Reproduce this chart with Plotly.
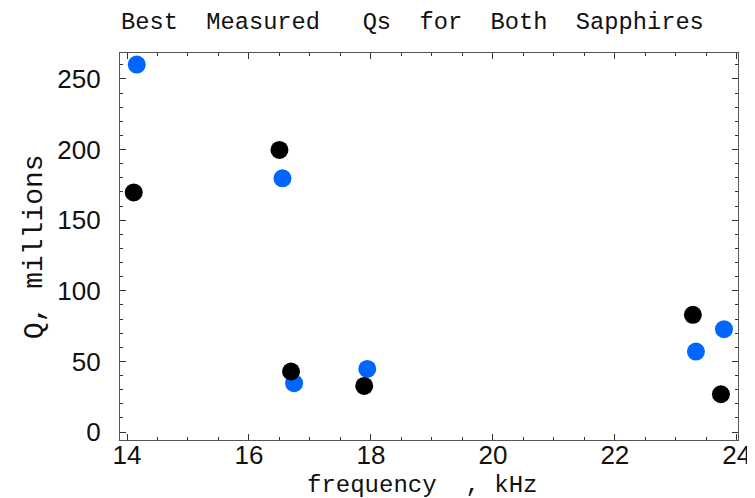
import plotly.graph_objects as go

# Data (frequency in kHz, Q in millions)
blue_freq = [14.16, 16.55, 16.74, 17.94, 23.33, 23.79]
blue_q = [260.2, 179.7, 34.6, 44.7, 57.0, 72.9]
black_freq = [14.11, 16.50, 16.69, 17.89, 23.28, 23.74]
black_q = [169.7, 199.8, 42.9, 32.7, 83.0, 26.8]

title_text = "Best  Measured   Qs  for  Both  Sapphires"
x_title = "frequency  , kHz"
y_title = "Q, millions"

x_ticks = [14, 16, 18, 20, 22, 24]
y_ticks = [0, 50, 100, 150, 200, 250]

mono = "Liberation Mono, Courier New, monospace"
sans = "Liberation Sans, Arial, sans-serif"

fig = go.Figure()
fig.add_trace(go.Scatter(x=blue_freq, y=blue_q, mode="markers",
                         marker=dict(color="#0066FF", size=18, line=dict(width=0)),
                         showlegend=False))
fig.add_trace(go.Scatter(x=black_freq, y=black_q, mode="markers",
                         marker=dict(color="#000000", size=18, line=dict(width=0)),
                         showlegend=False))

axis_common = dict(
    showgrid=False, zeroline=False, showline=True, linecolor="#555555", linewidth=1.3,
    mirror="allticks", ticks="inside", ticklen=6, tickwidth=1, tickcolor="#333333",
    tickfont=dict(family=sans, size=26, color="#111111"),
)

fig.update_xaxes(range=[13.885, 24.02], tickvals=x_ticks, ticklabelstandoff=-8,
                 minor=dict(dtick=0.5, ticks="inside", ticklen=3, tickwidth=1, tickcolor="#333333"),
                 **axis_common)
fig.update_yaxes(range=[-5.6, 268.4], tickvals=y_ticks, ticklabelstandoff=13,
                 minor=dict(dtick=10, ticks="inside", ticklen=3, tickwidth=1, tickcolor="#333333"),
                 **axis_common)

fig.update_layout(
    width=755, height=498,
    margin=dict(l=112, r=18, t=45, b=66, pad=0),
    plot_bgcolor="white", paper_bgcolor="white",
    annotations=[
        dict(text=title_text, xref="paper", yref="paper", x=0.474, y=1.078,
             xanchor="center", yanchor="middle", showarrow=False,
             font=dict(family=mono, size=23.7, color="#111111")),
        dict(text=x_title, xref="paper", yref="paper", x=0.489, y=-0.117,
             xanchor="center", yanchor="middle", showarrow=False,
             font=dict(family=mono, size=24, color="#111111")),
        dict(text=y_title, xref="paper", yref="paper", x=-0.138, y=0.5,
             xanchor="center", yanchor="middle", showarrow=False, textangle=-90,
             font=dict(family=mono, size=28, color="#111111")),
    ],
)

fig.write_html("out.html")
